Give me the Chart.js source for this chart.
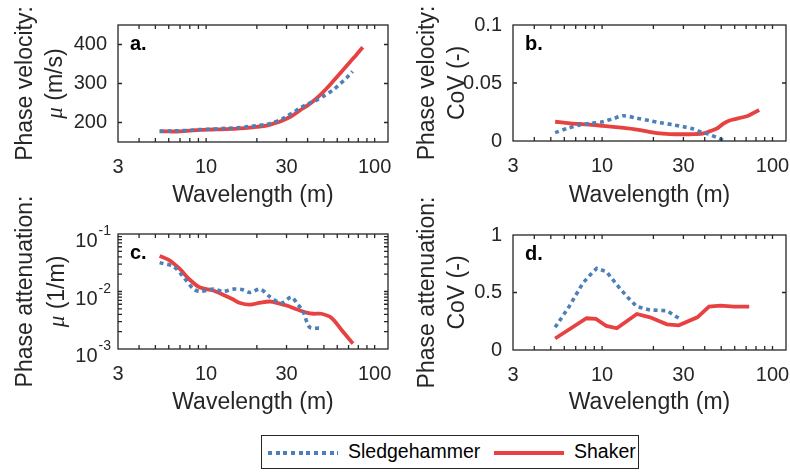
<!DOCTYPE html>
<html>
<head>
<meta charset="utf-8">
<script src="https://cdn.jsdelivr.net/npm/chart.js@4"></script>
<style>
  body { margin: 0; background: #fff; }
  #wrap { position: relative; width: 790px; height: 473px; overflow: hidden; font-family: "Liberation Sans", Arial, sans-serif; }
  canvas { position: absolute; }
  #legend { position: absolute; left: 261px; top: 435px; width: 376px; height: 32px; border: 1px solid #262626; background: #fff; }
  #legend .sw { position: absolute; height: 4px; top: 15px; width: 70px; }
  #legend .dot { left: 6px; background: repeating-linear-gradient(90deg, #4d80b8 0 4px, transparent 4px 7.7px); }
  #legend .solid { left: 232px; background: #e84142; }
  #legend .lbl { position: absolute; top: 4px; font-size: 19.5px; color: #000; }
</style>
</head>
<body>
<div id="wrap">
  <canvas id="pa" width="395" height="215" style="left:0;top:0"></canvas>
  <canvas id="pb" width="395" height="215" style="left:395px;top:0"></canvas>
  <canvas id="pc" width="395" height="227" style="left:0;top:195px"></canvas>
  <canvas id="pd" width="395" height="227" style="left:395px;top:195px"></canvas>
  <div id="legend">
    <div class="sw dot"></div><span class="lbl" style="left:86px">Sledgehammer</span>
    <div class="sw solid"></div><span class="lbl" style="left:312px">Shaker</span>
  </div>
</div>
<script>
// x axis ticks (wavelength, m)
const xMajor = [3, 10, 30, 100];
const xMinor = [4, 5, 6, 7, 8, 9, 20, 40, 50, 60, 70, 80, 90];

// a. phase velocity, mean (m/s)
const velLamShaker = [5.3, 6.0, 7.0, 8.0, 9.2, 11, 13, 16, 18.2, 20, 22.8, 25, 28, 32, 36, 40, 45, 50, 56.5, 63, 71, 78, 85];
const velShaker = [177, 177, 177, 179, 181, 182, 183, 185, 187, 189, 192, 197, 204, 216, 231, 244, 261, 280, 305, 328, 354, 374, 393];
const velLamSledge = [5.3, 6.0, 7.0, 8.0, 9.2, 11, 13, 16, 18.2, 20, 22.8, 25, 28, 30, 33, 36, 40, 45, 50, 56.5, 62, 68, 74];
const velSledge = [178, 178, 179, 180, 182, 183, 185, 187, 190, 192, 195, 200, 208, 216, 226, 237, 247, 257, 268, 283, 298, 314, 331];

// b. phase velocity, CoV (-)
const velCovLamShaker = [5.3, 6.3, 7.4, 8.7, 10.1, 12.5, 15.3, 18, 21, 25, 30, 35, 39.5, 43, 47.5, 51, 55.5, 63, 71.4, 77, 83.5];
const velCovShaker = [0.0166, 0.0155, 0.0147, 0.014, 0.0131, 0.0118, 0.0103, 0.0085, 0.0068, 0.006, 0.0058, 0.006, 0.0066, 0.0085, 0.011, 0.0145, 0.0175, 0.0195, 0.0216, 0.024, 0.0267];
const velCovLamSledge = [5.3, 6.3, 7.4, 8.7, 10.1, 11.7, 13.3, 16, 19, 22, 26, 30, 34, 37.8, 42, 47.5, 52];
const velCovSledge = [0.0072, 0.011, 0.0138, 0.0153, 0.0166, 0.0195, 0.0218, 0.0196, 0.0175, 0.0158, 0.014, 0.0123, 0.0105, 0.008, 0.006, 0.0028, 0.0003];

// c. phase attenuation, mean (1/m)
const attLamShaker = [5.3, 6.1, 7.0, 8.0, 9.2, 11.0, 12.6, 14.3, 15.9, 18.2, 21, 24, 27, 30, 34.5, 39.4, 43.5, 48.3, 55.3, 64, 74.3];
const attShaker = [0.0416, 0.0345, 0.0244, 0.016, 0.0117, 0.0104, 0.0088, 0.0074, 0.0063, 0.0059, 0.0064, 0.0067, 0.0062, 0.0057, 0.0049, 0.0043, 0.0041, 0.0041, 0.0035, 0.0021, 0.00124];
const attLamSledge = [5.3, 6.4, 7.3, 8.4, 9.2, 11.0, 12.6, 14.5, 16.3, 18.2, 20.9, 24, 28, 32, 34.5, 37.6, 41.1, 47.2];
const attSledge = [0.0318, 0.0272, 0.0182, 0.0111, 0.0100, 0.0110, 0.0100, 0.0110, 0.0108, 0.0096, 0.011, 0.008, 0.0063, 0.008, 0.0063, 0.0045, 0.0024, 0.0023];

// d. phase attenuation, CoV (-)
const attCovLamShaker = [5.3, 8.1, 9.2, 10.6, 12.2, 16, 19.1, 24, 28.2, 36.2, 42.4, 49.5, 59.5, 73];
const attCovShaker = [0.10, 0.276, 0.27, 0.209, 0.189, 0.313, 0.284, 0.223, 0.215, 0.284, 0.377, 0.385, 0.377, 0.377];
const attCovLamSledge = [5.3, 6.4, 7.7, 8.5, 9.3, 10.6, 12.7, 14.3, 16, 19.1, 24, 28.2];
const attCovSledge = [0.197, 0.377, 0.58, 0.652, 0.71, 0.681, 0.536, 0.45, 0.377, 0.348, 0.342, 0.276];

const BLUE = "#4d80b8";
const RED = "#e84142";
const AXIS = "#262626";
const FONT = '"Liberation Sans", Arial, sans-serif';

function pts(lam, vals) {
  return lam.map((l, i) => ({ x: l, y: vals[i] }));
}

function drawYTitle(ctx, a, lines, offsets) {
  const cy = (a.top + a.bottom) / 2;
  const normal = "23px " + FONT;
  const mu = 'italic 23px "Liberation Serif", serif';
  lines.forEach((line, i) => {
    const parts = line.startsWith("μ") ? [["μ", mu], [line.slice(1), normal]] : [[line, normal]];
    ctx.save();
    ctx.translate(a.left - offsets[i], cy);
    ctx.rotate(-Math.PI / 2);
    ctx.fillStyle = AXIS;
    ctx.textBaseline = "alphabetic";
    ctx.textAlign = "left";
    let total = 0;
    for (const [t, f] of parts) { ctx.font = f; total += ctx.measureText(t).width; }
    let x = -total / 2;
    for (const [t, f] of parts) { ctx.font = f; ctx.fillText(t, x, 0); x += ctx.measureText(t).width; }
    ctx.restore();
  });
}

const framePlugin = {
  id: "frame",
  afterDatasetsDraw(chart, args, opts) {
    const { ctx, chartArea: a, scales: { x, y } } = chart;
    ctx.save();
    ctx.strokeStyle = AXIS;
    ctx.lineWidth = 1.3;
    ctx.beginPath();
    for (const v of xMajor.concat(xMinor)) {
      const px = x.getPixelForValue(v);
      if (px <= a.left + 1 || px >= a.right - 1) continue;
      ctx.moveTo(px, a.bottom); ctx.lineTo(px, a.bottom - 4);
      ctx.moveTo(px, a.top); ctx.lineTo(px, a.top + 4);
    }
    for (const v of opts.yMarks) {
      const py = y.getPixelForValue(v);
      if (py <= a.top + 1 || py >= a.bottom - 1) continue;
      ctx.moveTo(a.left, py); ctx.lineTo(a.left + 4, py);
      ctx.moveTo(a.right, py); ctx.lineTo(a.right - 4, py);
    }
    ctx.stroke();
    ctx.strokeRect(a.left, a.top, a.right - a.left, a.bottom - a.top);

    ctx.fillStyle = "#000";
    ctx.font = "bold 20px " + FONT;
    ctx.textBaseline = "alphabetic";
    ctx.fillText(opts.label, a.left + 12, a.top + 25);

    // powers of ten on the log axis
    if (opts.powers) {
      ctx.fillStyle = AXIS;
      for (const v of opts.powers) {
        const py = y.getPixelForValue(v);
        const ex = String(Math.round(Math.log10(v)));
        ctx.font = "14px " + FONT;
        const we = ctx.measureText(ex).width;
        ctx.textAlign = "right";
        ctx.fillText(ex, a.left - 7, py + 1);
        ctx.font = "20px " + FONT;
        ctx.fillText("10", a.left - 8 - we, py + 13);
      }
      ctx.textAlign = "left";
    }
    drawYTitle(ctx, a, opts.yTitle, opts.yTitleOffsets);
    ctx.restore();
  }
};

function makePanel(id, p) {
  const xh = p.height - p.bottom;
  new Chart(document.getElementById(id), {
    type: "line",
    data: {
      datasets: [
        { label: "Sledgehammer", data: p.sledge, borderColor: BLUE, borderWidth: 3.6, borderDash: [4, 3.7], tension: p.tension, clip: 0 },
        { label: "Shaker", data: p.shaker, borderColor: RED, borderWidth: 3.8, tension: p.tension, clip: 0 }
      ]
    },
    options: {
      responsive: false,
      animation: false,
      devicePixelRatio: 1,
      layout: { padding: { top: p.top, right: p.right, left: 0, bottom: 0 } },
      elements: { point: { radius: 0 } },
      plugins: {
        legend: { display: false },
        tooltip: { enabled: false },
        frame: { label: p.label, yMarks: p.yMarks, yTitle: p.yTitle, yTitleOffsets: p.yTitleOffsets, powers: p.powers }
      },
      scales: {
        x: {
          type: "logarithmic",
          min: 3, max: 120,
          grid: { display: false, drawTicks: false },
          border: { display: false },
          afterBuildTicks: s => { s.ticks = xMajor.map(v => ({ value: v })); },
          afterFit: s => { s.height = xh; s.paddingLeft = 0; s.paddingRight = 0; },
          ticks: { callback: v => String(v), color: AXIS, font: { family: FONT, size: 20 }, padding: 13, maxRotation: 0, autoSkip: false },
          title: { display: true, text: "Wavelength (m)", color: AXIS, font: { family: FONT, size: 23 }, padding: { top: 0, bottom: 6 } }
        },
        y: {
          type: p.yType,
          min: p.yMin, max: p.yMax,
          grid: { display: false, drawTicks: false },
          border: { display: false },
          afterBuildTicks: s => { s.ticks = p.yLabels.map(v => ({ value: v })); },
          afterFit: s => { s.width = 118; s.paddingTop = 0; s.paddingBottom = 0; },
          ticks: { display: !p.powers, callback: v => String(v), color: AXIS, font: { family: FONT, size: 20 }, padding: 11, autoSkip: false }
        }
      }
    },
    plugins: [framePlugin]
  });
}

makePanel("pa", {
  height: 215, top: 25, bottom: 142, right: 7, label: "a.", tension: 0.3,
  shaker: pts(velLamShaker, velShaker), sledge: pts(velLamSledge, velSledge),
  yType: "linear", yMin: 150, yMax: 450, yLabels: [200, 300, 400], yMarks: [200, 300, 400],
  yTitle: ["Phase velocity:", "μ (m/s)"], yTitleOffsets: [86, 56]
});
makePanel("pb", {
  height: 215, top: 25, bottom: 141, right: 4, label: "b.", tension: 0.3,
  shaker: pts(velCovLamShaker, velCovShaker), sledge: pts(velCovLamSledge, velCovSledge),
  yType: "linear", yMin: 0, yMax: 0.1, yLabels: [0, 0.05, 0.1], yMarks: [0, 0.05, 0.1],
  yTitle: ["Phase velocity:", "CoV (-)"], yTitleOffsets: [79, 49]
});
makePanel("pc", {
  height: 227, top: 39, bottom: 154, right: 7, label: "c.", tension: 0.3,
  shaker: pts(attLamShaker, attShaker), sledge: pts(attLamSledge, attSledge),
  yType: "logarithmic", yMin: 0.001, yMax: 0.1, yLabels: [0.001, 0.01, 0.1],
  yMarks: [0.002, 0.003, 0.004, 0.005, 0.006, 0.007, 0.008, 0.009, 0.01, 0.02, 0.03, 0.04, 0.05, 0.06, 0.07, 0.08, 0.09],
  powers: [0.001, 0.01, 0.1],
  yTitle: ["Phase attenuation:", "μ (1/m)"], yTitleOffsets: [86, 54]
});
makePanel("pd", {
  height: 227, top: 40, bottom: 155, right: 4, label: "d.", tension: 0,
  shaker: pts(attCovLamShaker, attCovShaker), sledge: pts(attCovLamSledge, attCovSledge),
  yType: "linear", yMin: 0, yMax: 1, yLabels: [0, 0.5, 1], yMarks: [0, 0.5, 1],
  yTitle: ["Phase attenuation:", "CoV (-)"], yTitleOffsets: [79, 49]
});
</script>
</body>
</html>
